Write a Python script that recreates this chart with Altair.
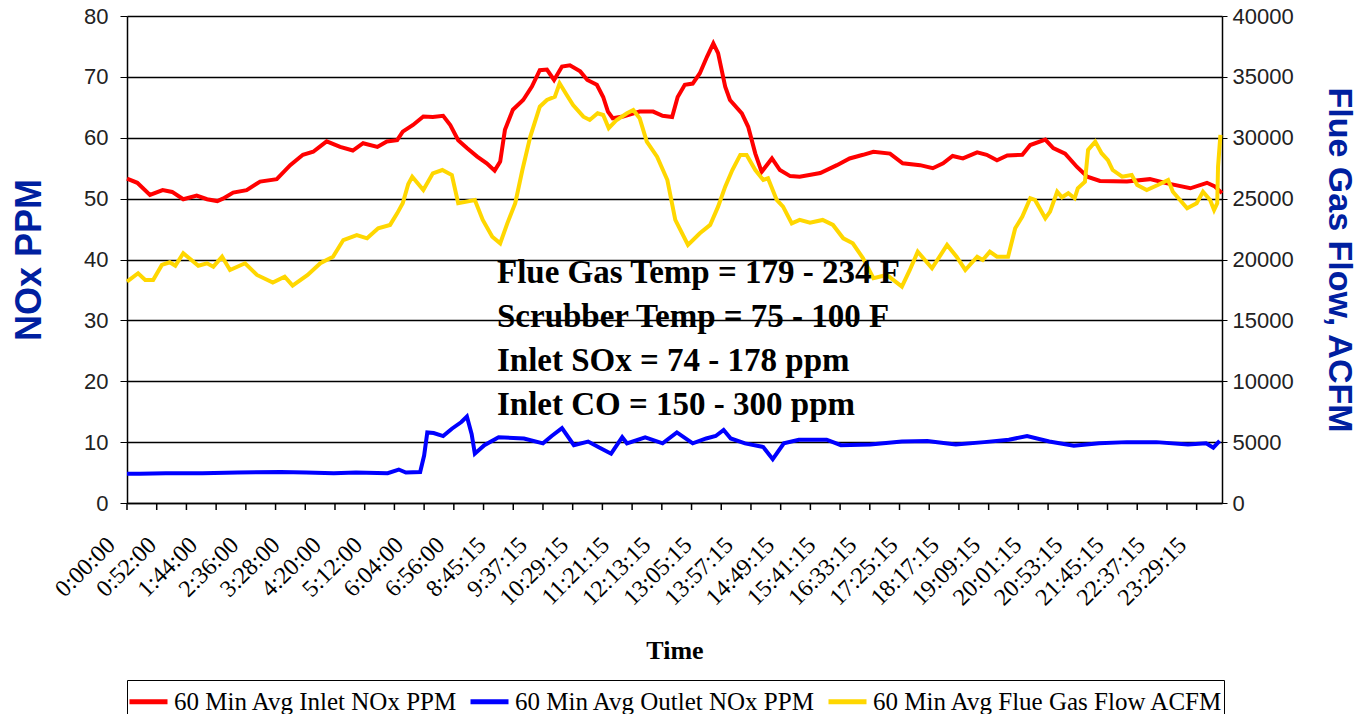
import altair as alt
import pandas as pd

# ---------------- data ----------------
TIME_LABELS = ["0:00:00", "0:52:00", "1:44:00", "2:36:00", "3:28:00", "4:20:00",
               "5:12:00", "6:04:00", "6:56:00", "8:45:15", "9:37:15", "10:29:15",
               "11:21:15", "12:13:15", "13:05:15", "13:57:15", "14:49:15", "15:41:15",
               "16:33:15", "17:25:15", "18:17:15", "19:09:15", "20:01:15", "20:53:15",
               "21:45:15", "22:37:15", "23:29:15"]
LABEL_STEP_MIN = 52      # minutes of record between category labels
TICK_STEP_MIN = 37.5     # minutes of record between category tick marks
RECORD_MINUTES = 1382    # length of record (category axis extent)

INLET_MIN = [0, 13, 29, 45, 57, 71, 88, 101, 114, 121, 134, 151, 168, 189, 206, 222,
             235, 252, 269, 285, 298, 316, 328, 341, 348, 361, 374, 386, 399, 408, 418,
             429, 442, 454, 464, 471, 477, 487, 500, 511, 521, 530, 539, 549, 559, 572,
             581, 593, 601, 607, 613, 626, 647, 664, 676, 688, 695, 704, 714, 723, 732,
             740, 746, 755, 761, 776, 784, 793, 801, 814, 824, 837, 849, 875, 896, 912,
             929, 942, 963, 979, 1001, 1017, 1030, 1042, 1055, 1073, 1085, 1098, 1111,
             1130, 1140, 1159, 1169, 1184, 1199, 1212, 1228, 1262, 1291, 1313, 1342,
             1363, 1373, 1382]
INLET_NOX = [53.3, 52.6, 50.6, 51.4, 51.1, 49.9, 50.5, 49.9, 49.6, 50.0, 51.0, 51.4,
             52.8, 53.2, 55.5, 57.2, 57.7, 59.4, 58.5, 57.9, 59.1, 58.5, 59.4, 59.6,
             61.0, 62.1, 63.5, 63.4, 63.6, 62.1, 59.6, 58.3, 56.9, 55.8, 54.6, 56.1,
             61.3, 64.6, 66.2, 68.4, 71.1, 71.2, 69.5, 71.7, 71.9, 70.9, 69.5, 68.7,
             66.7, 64.3, 63.2, 63.5, 64.3, 64.3, 63.6, 63.4, 66.7, 68.7, 68.9, 70.6,
             73.3, 75.5, 73.9, 68.4, 66.2, 64.0, 61.8, 57.4, 54.4, 56.6, 54.7, 53.7,
             53.6, 54.2, 55.5, 56.6, 57.2, 57.7, 57.4, 55.8, 55.5, 55.0, 55.8, 57.0,
             56.6, 57.6, 57.2, 56.3, 57.1, 57.2, 58.8, 59.7, 58.3, 57.4, 55.2, 53.6,
             52.9, 52.8, 53.2, 52.5, 51.7, 52.6, 52.0, 50.9]

OUTLET_MIN = [0, 16, 49, 95, 140, 194, 226, 261, 289, 329, 343, 352, 370, 375, 379,
              387, 399, 410, 422, 429, 435, 439, 451, 469, 501, 525, 536, 549, 564, 582,
              596, 611, 625, 631, 654, 676, 694, 714, 731, 743, 753, 762, 780, 803, 815,
              829, 848, 883, 901, 938, 978, 1010, 1046, 1082, 1113, 1136, 1164, 1195,
              1227, 1262, 1299, 1339, 1362, 1371, 1379]
OUTLET_NOX = [4.8, 4.8, 4.9, 4.9, 5.0, 5.1, 5.0, 4.9, 5.0, 4.9, 5.5, 5.0, 5.1, 7.8,
              11.6, 11.5, 11.0, 12.2, 13.3, 14.2, 11.3, 8.1, 9.5, 10.8, 10.6, 9.8, 11.0,
              12.3, 9.5, 10.1, 9.1, 8.1, 10.8, 9.8, 10.8, 9.8, 11.6, 9.8, 10.6, 11.0,
              12.0, 10.6, 9.8, 9.2, 7.2, 9.8, 10.4, 10.4, 9.5, 9.6, 10.1, 10.2, 9.6,
              10.0, 10.4, 11.0, 10.1, 9.4, 9.8, 10.0, 10.0, 9.6, 9.8, 9.1, 10.2]

FLOW_MIN = [0, 14, 23, 33, 44, 54, 61, 71, 90, 101, 109, 120, 130, 149, 164, 184, 199,
            209, 228, 244, 260, 273, 290, 303, 317, 332, 341, 348, 355, 360, 374, 386,
            398, 410, 418, 439, 449, 461, 471, 480, 490, 499, 509, 521, 530, 540, 546,
            555, 563, 576, 584, 594, 601, 608, 618, 631, 639, 647, 656, 669, 682, 692,
            708, 723, 736, 746, 755, 764, 774, 782, 793, 803, 809, 820, 828, 839, 849,
            862, 878, 891, 904, 916, 929, 942, 959, 978, 988, 998, 1016, 1035, 1047,
            1058, 1073, 1080, 1089, 1098, 1112, 1121, 1130, 1140, 1146, 1159, 1165,
            1174, 1180, 1188, 1196, 1200, 1209, 1213, 1222, 1230, 1238, 1244, 1256,
            1268, 1275, 1287, 1301, 1314, 1320, 1338, 1350, 1358, 1367, 1372, 1376,
            1377, 1380]
FLOW_ACFM = [18180, 18870, 18320, 18320, 19550, 19770, 19490, 20510, 19490, 19690,
             19410, 20230, 19140, 19690, 18730, 18100, 18590, 17850, 18730, 19690,
             20230, 21600, 22010, 21740, 22560, 22840, 23790, 24620, 26200, 26800,
             25710, 27080, 27350, 26940, 24620, 24890, 23250, 21870, 21330, 22970,
             24620, 27350, 30090, 32550, 33100, 33370, 34470, 33510, 32690, 31730,
             31460, 32010, 31870, 30780, 31460, 32010, 32280, 31600, 29680, 28440,
             26530, 23250, 21190, 22150, 22840, 24340, 25980, 27350, 28590, 28590,
             27350, 26530, 26670, 24890, 24340, 22970, 23250, 23020, 23250, 22840,
             21740, 21330, 20100, 18460, 18730, 17770, 19140, 20640, 19280, 21190,
             20230, 19140, 20230, 19960, 20640, 20230, 20230, 22560, 23520, 25030,
             24890, 23380, 23930, 25570, 25110, 25440, 25030, 25850, 26390, 29000,
             29680, 28730, 28170, 27350, 26800, 26940, 26120, 25710, 26120, 26530,
             25570, 24210, 24620, 25570, 24890, 24070, 24620, 27620, 30230]

SERIES = ["60 Min Avg Inlet NOx PPM", "60 Min Avg Outlet NOx PPM",
          "60 Min Avg Flue Gas Flow ACFM"]
COLORS = ["#FF0000", "#0000FF", "#FFD700"]

ANNOTATION = ["Flue Gas Temp = 179 - 234 F", "Scrubber Temp = 75 - 100 F",
              "Inlet SOx = 74 - 178 ppm", "Inlet CO = 150 - 300 ppm"]

# ---------------- tables ----------------
nox = pd.concat([
    pd.DataFrame({"minute": INLET_MIN, "value": INLET_NOX, "series": SERIES[0]}),
    pd.DataFrame({"minute": OUTLET_MIN, "value": OUTLET_NOX, "series": SERIES[1]}),
], ignore_index=True)
flow = pd.DataFrame({"minute": FLOW_MIN, "value": FLOW_ACFM, "series": SERIES[2]})
n_ticks = int(RECORD_MINUTES // TICK_STEP_MIN) + 1
ticks = pd.DataFrame({"minute": [TICK_STEP_MIN * i for i in range(n_ticks)]})

W, H = 1095, 487
SERIF = "Liberation Serif"
SANS = "Liberation Sans"
TITLE_BLUE = "#0020A0"

label_vals = [LABEL_STEP_MIN * k for k in range(len(TIME_LABELS))]
label_js = "[" + ",".join("'" + t + "'" for t in TIME_LABELS) + "]"

x_scale = alt.Scale(domain=[0, RECORD_MINUTES], nice=False, zero=False)
x_axis = alt.Axis(
    values=label_vals,
    labelExpr=label_js + "[round(datum.value/" + str(LABEL_STEP_MIN) + ")]",
    ticks=False, grid=False, labelAngle=-45, labelAlign="right", labelBaseline="middle",
    labelFont=SERIF, labelFontSize=24, labelColor="black", labelPadding=38,
    labelOffset=-16, labelOverlap=False, labelFlush=False, labelBound=False,
    domainColor="black", domainWidth=1.5,
    title="Time", titleFont=SERIF, titleFontSize=26, titleFontWeight="bold",
    titleColor="black", titleY=155, titleBaseline="alphabetic",
)

color = alt.Color(
    "series:N",
    scale=alt.Scale(domain=SERIES, range=COLORS),
    legend=alt.Legend(
        title=None, orient="none", legendX=0, legendY=664, direction="horizontal",
        symbolType="stroke", symbolStrokeWidth=5, symbolSize=1444,
        labelFont=SERIF, labelFontSize=25, labelColor="black", labelLimit=600,
        strokeColor="black", padding=0, columnPadding=2, labelOffset=4,
    ),
)

left_axis = alt.Axis(
    values=list(range(0, 81, 10)), grid=True, gridColor="black", gridWidth=1.3,
    domainColor="black", domainWidth=1.5, tickColor="black", tickSize=7,
    labelFont=SANS, labelFontSize=22, labelColor="#222222", labelPadding=12,
    title="NOx PPM", titleFont=SANS, titleFontSize=36, titleFontWeight="bold",
    titleColor=TITLE_BLUE, titleX=-87, titleBaseline="alphabetic",
)
right_axis = alt.Axis(
    orient="right", values=list(range(0, 40001, 5000)), format="d", grid=False,
    domainColor="black", domainWidth=1.5, tickColor="black", tickSize=5,
    labelFont=SANS, labelFontSize=22, labelColor="#222222", labelPadding=5,
    title="Flue Gas Flow, ACFM", titleFont=SANS, titleFontSize=34,
    titleFontWeight="bold", titleColor=TITLE_BLUE, titleAngle=90, titleX=106,
    titleBaseline="alphabetic",
)

nox_lines = alt.Chart(nox).mark_line(strokeWidth=4).encode(
    x=alt.X("minute:Q", scale=x_scale, axis=x_axis),
    y=alt.Y("value:Q", scale=alt.Scale(domain=[0, 80], nice=False), axis=left_axis),
    color=color,
    detail="series:N",
)
flow_line = alt.Chart(flow).mark_line(strokeWidth=4).encode(
    x=alt.X("minute:Q", scale=x_scale),
    y=alt.Y("value:Q", scale=alt.Scale(domain=[0, 40000], nice=False), axis=right_axis),
    color=color,
)
tick_rules = alt.Chart(ticks).mark_rule(color="black", strokeWidth=1.5).encode(
    x=alt.X("minute:Q", scale=x_scale),
    y=alt.value(H),
    y2=alt.value(H + 7),
)
annotation = alt.Chart(pd.DataFrame({"k": [0]})).mark_text(
    align="left", baseline="alphabetic", font=SERIF, fontSize=33, fontWeight="bold",
    color="black", lineHeight=44,
).encode(
    x=alt.value(370),
    y=alt.value(267),
    text=alt.value(ANNOTATION),
)

chart = alt.layer(nox_lines, flow_line, tick_rules, annotation).resolve_scale(
    y="independent"
).properties(
    width=W, height=H,
    autosize=alt.AutoSizeParams(type="none"),
    padding={"left": 119, "top": 8, "right": 136, "bottom": 211},
    background="white",
).configure_view(stroke=None)

chart.save("out.html", embed_options={"renderer": "svg", "actions": False})
